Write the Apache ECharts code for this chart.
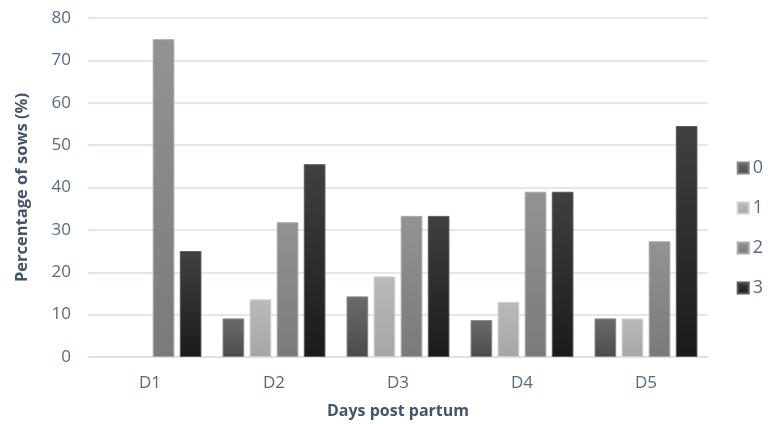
<!DOCTYPE html>
<html>
<head>
<meta charset="utf-8">
<script src="https://cdn.jsdelivr.net/npm/echarts@6/dist/echarts.min.js"></script>
<style>html,body{margin:0;padding:0;background:#fff;}#c{width:768px;height:424px;}</style>
</head>
<body>
<div id="c"></div>
<script>
const categories = ['D1', 'D2', 'D3', 'D4', 'D5'];
const seriesNames = ['0', '1', '2', '3'];
const s0 = [0, 9.1, 14.3, 8.7, 9.1];
const s1 = [0, 13.6, 19.0, 13.0, 9.1];
const s2 = [75, 31.8, 33.3, 39.0, 27.3];
const s3 = [25, 45.5, 33.3, 39.0, 54.5];
const yTicks = [0, 10, 20, 30, 40, 50, 60, 70, 80];

const grads = [
  ['#6b6b6b', '#4b4b4b', '#858585'],
  ['#bababa', '#a6a6a6', '#cfcfcf'],
  ['#939393', '#7a7a7a', '#a8a8a8'],
  ['#404040', '#1a1a1a', '#5a5a5a']
];
const values = [s0, s1, s2, s3];
const font = '"Open Sans", sans-serif';
const chart = echarts.init(document.getElementById('c'));
chart.setOption({
  animation: false,
  backgroundColor: '#ffffff',
  grid: { left: 88, right: 60, top: 18, bottom: 64 },
  legend: {
    orient: 'vertical',
    right: 0,
    top: 154,
    itemWidth: 11,
    itemHeight: 11,
    itemGap: 22,
    icon: 'rect',
    textStyle: { fontFamily: font, fontSize: 18, color: '#5a6a80', padding: [0, 0, 0, -1] },
    data: seriesNames
  },
  xAxis: {
    type: 'category',
    data: categories,
    name: 'Days post partum',
    nameLocation: 'middle',
    nameGap: 46,
    nameTextStyle: { fontFamily: font, fontSize: 16, fontWeight: 'bold', color: '#44546a' },
    axisLine: { show: true, lineStyle: { color: '#d9dee8', width: 1.5 } },
    axisTick: { show: false },
    axisLabel: { fontFamily: font, fontSize: 17, color: '#5a6a80', margin: 18 }
  },
  yAxis: {
    type: 'value',
    min: 0,
    max: 80,
    interval: 10,
    name: 'Percentage of sows (%)',
    nameLocation: 'middle',
    nameGap: 57,
    nameTextStyle: { fontFamily: font, fontSize: 16.5, fontWeight: 'bold', color: '#44546a' },
    axisLine: { show: false },
    axisTick: { show: false },
    axisLabel: { fontFamily: font, fontSize: 17, color: '#5a6a80', margin: 17,
      formatter: v => yTicks.includes(v) ? String(v) : '' },
    splitLine: { lineStyle: { color: '#d9dee8', width: 1.5 } }
  },
  series: seriesNames.map((n, i) => ({
    name: n,
    type: 'bar',
    data: values[i].map(v => v === 0 ? { value: v, itemStyle: { borderWidth: 0, opacity: 0 } } : v),
    barGap: '25%',
    barCategoryGap: '17%',
    itemStyle: {
      color: new echarts.graphic.LinearGradient(0, 0, 0, 1, [
        { offset: 0, color: grads[i][0] },
        { offset: 1, color: grads[i][1] }
      ]),
      borderColor: grads[i][2],
      borderWidth: 1
    }
  }))
});
</script>
</body>
</html>
